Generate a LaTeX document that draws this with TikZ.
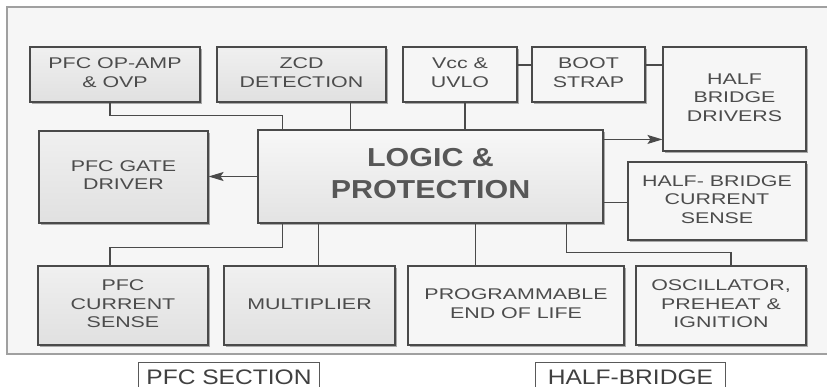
\documentclass[tikz,border=0pt]{standalone}
\usepackage{fontspec}
\setmainfont{Liberation Sans}
\usetikzlibrary{arrows.meta,calc,shadows}
\definecolor{framebg}{HTML}{F6F6F6}
\definecolor{frameln}{HTML}{A0A0A0}
\definecolor{lnc}{HTML}{4A4A4A}
\definecolor{txc}{HTML}{4C4C4C}
\newcommand\smtxt[1]{\scalebox{1.38}[1]{\begin{tabular}{@{}c@{}}#1\end{tabular}}}
\newcommand\bgtxt[1]{\scalebox{1.17}[1]{\begin{tabular}{@{}c@{}}#1\end{tabular}}}
\tikzset{
  blk/.style={draw=lnc, line width=1.1pt, rectangle, inner sep=0pt, text=txc,
    font=\fontsize{15.5}{18.5}\selectfont,
    drop shadow={shadow xshift=1.6pt, shadow yshift=-1.6pt, opacity=0.45, fill=black!70}},
  pfcbox/.style={blk, top color=black!6, bottom color=black!12},
  hbbox/.style={blk, fill=framebg, drop shadow={shadow xshift=1pt, shadow yshift=-1pt, opacity=0.2, fill=black}},
  conn/.style={draw=lnc, line width=1.1pt},
  arr/.style={conn, -{Stealth[length=15pt,width=9pt,inset=3pt]}},
  secbox/.style={draw=black!65, line width=0.9pt, rectangle, inner sep=0pt, text=black!75,
    font=\fontsize{21}{24}\selectfont}
}
\begin{document}
\begin{tikzpicture}[x=1pt,y=-1pt]
\useasboundingbox (0,0) rectangle (827,387);
\clip (0,0) rectangle (827,387);
\fill[white] (0,0) rectangle (827,387);
\draw[draw=frameln, line width=1.4pt, fill=framebg] (7,7) rectangle (840,354);
% top row
\node[pfcbox, minimum width=170pt, minimum height=55pt] (opamp) at (115,74.5) {\smtxt{PFC OP-AMP\\ \& OVP}};
\node[pfcbox, minimum width=169pt, minimum height=55pt] (zcd) at (301.5,74.5) {\smtxt{ZCD\\ DETECTION}};
\node[hbbox, minimum width=114pt, minimum height=55pt] (vcc) at (460,74.5) {\smtxt{Vcc \&\\ UVLO}};
\node[hbbox, minimum width=113pt, minimum height=55pt] (boot) at (588.5,74.5) {\smtxt{BOOT\\ STRAP}};
\node[hbbox, minimum width=143pt, minimum height=104pt] (hbd) at (734.5,99) {\smtxt{HALF\\ BRIDGE\\ DRIVERS}};
% middle row
\node[pfcbox, minimum width=169pt, minimum height=92pt] (gate) at (123.5,177) {\smtxt{PFC GATE\\ DRIVER}};
\node[blk, top color=black!3, bottom color=black!11, minimum width=345pt, minimum height=93pt,
  font=\fontsize{26}{32}\selectfont\bfseries, text=black!66] (logic) at (430.5,176.5) {\bgtxt{LOGIC \&\\ PROTECTION}};
\node[hbbox, minimum width=178pt, minimum height=78pt] (hbcs) at (717,201) {\smtxt{HALF- BRIDGE\\ CURRENT\\ SENSE}};
% bottom row
\node[pfcbox, minimum width=170pt, minimum height=79pt] (pcs) at (123,305.5) {\smtxt{PFC\\ CURRENT\\ SENSE}};
\node[pfcbox, minimum width=171pt, minimum height=79pt] (mult) at (309.5,305.5) {\smtxt{MULTIPLIER}};
\node[hbbox, minimum width=216pt, minimum height=79pt] (eol) at (516,305.5) {\smtxt{PROGRAMMABLE\\ END OF LIFE}};
\node[hbbox, minimum width=170pt, minimum height=79pt] (osc) at (721,305.5) {\smtxt{OSCILLATOR,\\ PREHEAT \&\\ IGNITION}};
% section labels
\node[secbox, minimum width=181pt, minimum height=29pt, anchor=north west] (pfcsec) at (138,362)
  {\scalebox{1.17}[1]{PFC SECTION}};
\node[secbox, minimum width=190pt, minimum height=29pt, anchor=north west] (hbsec) at (535,362)
  {\scalebox{1.17}[1]{HALF-BRIDGE}};
% connectors
\draw[conn] ($(opamp.south)+(-5,0)$) -- ++(0,13) -| ($(logic.north west)+(25,0)$);
\draw[conn] ($(zcd.south east)+(-36,0)$) coordinate (z1) -- (z1 |- logic.north);
\draw[conn] ($(vcc.south)+(5,0)$) coordinate (v1) -- (v1 |- logic.north);
\draw[conn] ($(vcc.east)+(0,-9.5)$) -- ($(boot.west)+(0,-9.5)$);
\draw[conn] ($(boot.east)+(0,-9.5)$) coordinate (b1) -- (b1 -| hbd.west);
\draw[arr] ($(logic.north east)+(0,10)$) coordinate (a1) -- (a1 -| hbd.west);
\draw[arr] (logic.west) -- (logic.west -| gate.east);
\draw[conn] ($(logic.north east)+(0,73)$) coordinate (c1) -- (c1 -| hbcs.west);
\draw[conn] ($(logic.south west)+(25,0)$) -- ++(0,24) -| ($(pcs.north)+(-13,0)$);
\draw[conn] ($(logic.south west)+(61,0)$) coordinate (m1) -- (m1 |- mult.north);
\draw[conn] ($(logic.south west)+(218,0)$) coordinate (e1) -- (e1 |- eol.north);
\draw[conn] ($(logic.south west)+(309,0)$) -- ++(0,29) -| ($(osc.north)+(10,0)$);
\end{tikzpicture}
\end{document}
